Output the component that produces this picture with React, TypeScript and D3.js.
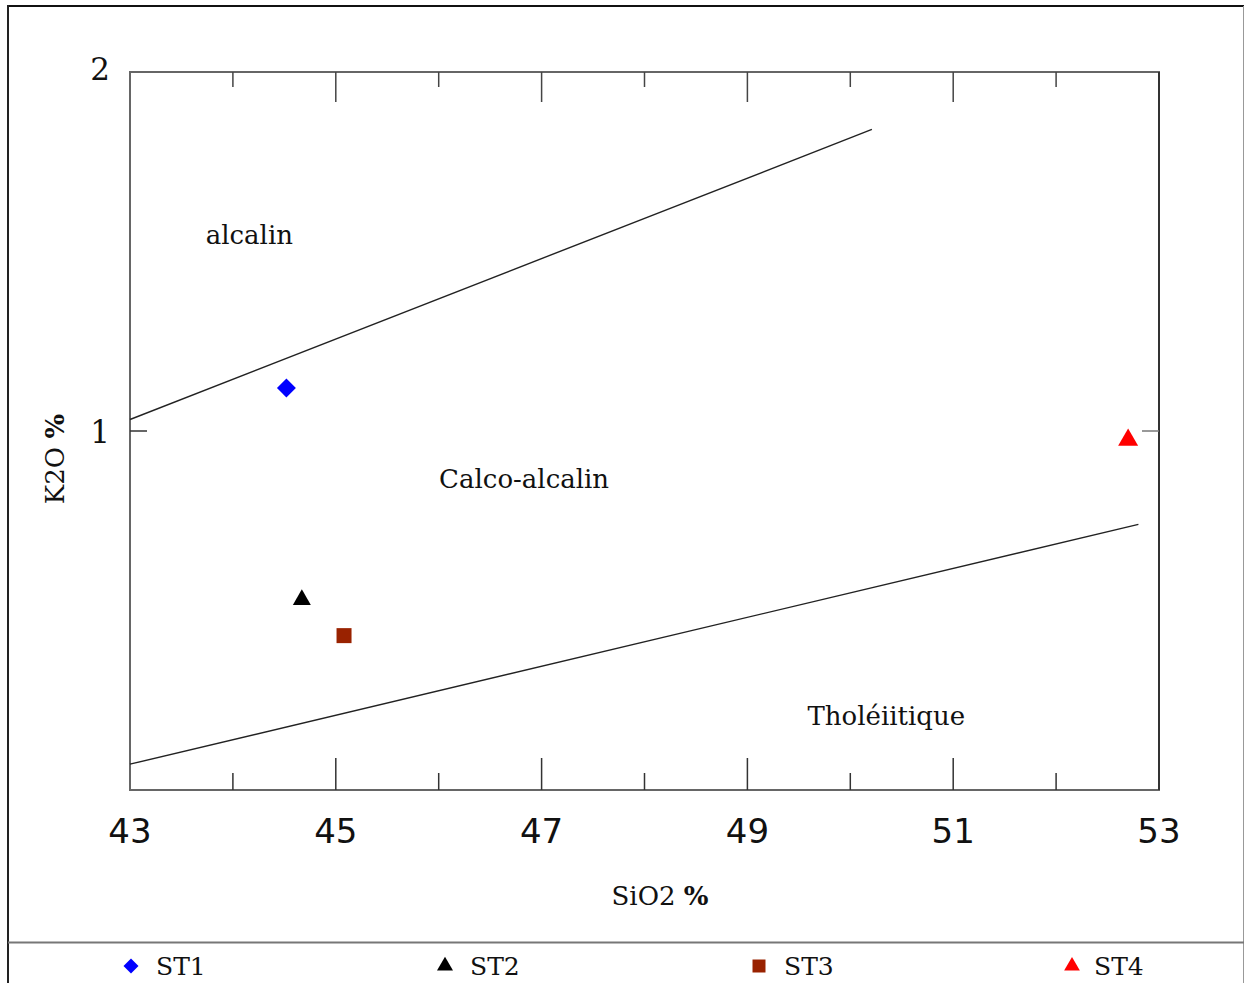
import React, { useEffect, useRef } from "react";
import * as d3 from "d3";

// sample points (SiO2 %, K2O %)
const samples = ["ST1", "ST2", "ST3", "ST4"];
const sio2 = [44.52, 44.67, 45.08, 52.7];
const k2o = [1.12, 0.53, 0.43, 0.975];
const colors = ["#0000ff", "#000000", "#992200", "#ff0000"];
const shapes = ["diamond", "triangle", "square", "triangle"];

// boundary lines between series
const upperLineX = [43, 50.21];
const upperLineY = [1.032, 1.84];
const lowerLineX = [43, 52.8];
const lowerLineY = [0.072, 0.74];

const xTicks = [43, 44, 45, 46, 47, 48, 49, 50, 51, 52, 53];
const xLabels = [43, 45, 47, 49, 51, 53];
const yLabels = [1, 2];

const fields = [
  { name: "alcalin", x: 44.16, y: 1.52 },
  { name: "Calco-alcalin", x: 46.83, y: 0.84 },
  { name: "Tholéiitique", x: 50.35, y: 0.18 },
];

const W = 1244;
const H = 983;

function symbolPath(shape: string, size: number) {
  if (shape === "triangle") return d3.symbol(d3.symbolTriangle, size)();
  return d3.symbol(d3.symbolSquare, size)();
}

function Chart() {
  const ref = useRef<SVGSVGElement>(null);

  useEffect(() => {
    const svg = d3.select(ref.current);
    svg.selectAll("*").remove();

    const x = d3.scaleLinear().domain([43, 53]).range([130, 1159]);
    const y = d3.scaleLinear().domain([0, 2]).range([790, 72]);

    // outer frame
    svg.append("line").attr("x1", 7).attr("x2", 1244).attr("y1", 6).attr("y2", 6)
      .attr("stroke", "#111").attr("stroke-width", 2);
    svg.append("line").attr("x1", 8).attr("x2", 8).attr("y1", 5).attr("y2", H)
      .attr("stroke", "#222").attr("stroke-width", 2);
    svg.append("line").attr("x1", 1243.5).attr("x2", 1243.5).attr("y1", 6).attr("y2", H)
      .attr("stroke", "#999").attr("stroke-width", 1);
    svg.append("line").attr("x1", 8).attr("x2", 1244).attr("y1", 942.5).attr("y2", 942.5)
      .attr("stroke", "#777").attr("stroke-width", 2);

    // plot box
    svg.append("rect")
      .attr("x", x(43)).attr("y", y(2))
      .attr("width", x(53) - x(43)).attr("height", y(0) - y(2))
      .attr("fill", "none").attr("stroke", "#666").attr("stroke-width", 2);
    svg.append("line").attr("x1", x(53)).attr("x2", x(53)).attr("y1", y(2)).attr("y2", y(0))
      .attr("stroke", "#333").attr("stroke-width", 2);

    // ticks, pointing inward
    const inner = xTicks.slice(1, -1);
    svg.append("g").selectAll("line").data(inner).enter().append("line")
      .attr("x1", d => x(d)).attr("x2", d => x(d))
      .attr("y1", y(0)).attr("y2", d => y(0) - (d % 2 === 1 ? 32 : 17))
      .attr("stroke", "#333").attr("stroke-width", 1.5);
    svg.append("g").selectAll("line").data(inner).enter().append("line")
      .attr("x1", d => x(d)).attr("x2", d => x(d))
      .attr("y1", y(2)).attr("y2", d => y(2) + (d % 2 === 1 ? 30 : 15))
      .attr("stroke", "#444").attr("stroke-width", 1.5);
    svg.append("line").attr("x1", x(43)).attr("x2", x(43) + 17).attr("y1", y(1)).attr("y2", y(1))
      .attr("stroke", "#333").attr("stroke-width", 1.5);
    svg.append("line").attr("x1", x(53)).attr("x2", x(53) - 17).attr("y1", y(1)).attr("y2", y(1))
      .attr("stroke", "#777").attr("stroke-width", 1.5);

    // tick labels
    svg.append("g").selectAll("text").data(xLabels).enter().append("text")
      .attr("x", d => x(d)).attr("y", 843)
      .attr("text-anchor", "middle")
      .attr("font-family", "DejaVu Sans")
      .attr("font-size", 34)
      .attr("fill", "#111")
      .text(d => d);
    svg.append("g").selectAll("text").data(yLabels).enter().append("text")
      .attr("x", 110).attr("y", d => y(d) + (d === 2 ? 8 : 12))
      .attr("text-anchor", "end")
      .attr("font-family", "DejaVu Serif")
      .attr("font-size", 31)
      .attr("fill", "#111")
      .text(d => d);

    // axis titles
    const xt = svg.append("text").attr("x", 660).attr("y", 905)
      .attr("text-anchor", "middle").attr("font-family", "DejaVu Serif")
      .attr("font-size", 26).attr("fill", "#111");
    xt.append("tspan").text("SiO2 ");
    xt.append("tspan").attr("font-weight", "bold").text("%");

    const yt = svg.append("text")
      .attr("transform", "translate(64,459) rotate(-90)")
      .attr("text-anchor", "middle").attr("font-family", "DejaVu Serif")
      .attr("font-size", 26).attr("fill", "#111");
    yt.append("tspan").text("K2O ");
    yt.append("tspan").attr("font-weight", "bold").text("%");

    // boundary lines
    const line = d3.line<[number, number]>().x(d => x(d[0])).y(d => y(d[1]));
    svg.append("path")
      .attr("d", line(d3.zip(upperLineX, upperLineY) as [number, number][]))
      .attr("fill", "none").attr("stroke", "#222").attr("stroke-width", 1.4);
    svg.append("path")
      .attr("d", line(d3.zip(lowerLineX, lowerLineY) as [number, number][]))
      .attr("fill", "none").attr("stroke", "#222").attr("stroke-width", 1.4);

    // field names
    svg.append("g").selectAll("text").data(fields).enter().append("text")
      .attr("x", d => x(d.x)).attr("y", d => y(d.y))
      .attr("text-anchor", "middle")
      .attr("font-family", "DejaVu Serif")
      .attr("font-size", 26)
      .attr("fill", "#111")
      .text(d => d.name);

    // points
    const pointSize = [180, 140, 225, 173];
    svg.append("g").selectAll("path").data(samples).enter().append("path")
      .attr("d", (d, i) => symbolPath(shapes[i], pointSize[i]))
      .attr("transform", (d, i) =>
        `translate(${x(sio2[i])},${y(k2o[i])})` + (shapes[i] === "diamond" ? " rotate(45)" : ""))
      .attr("fill", (d, i) => colors[i]);

    // legend
    const legendX = [131, 445, 759, 1072];
    const legendSize = [113, 111, 169, 107];
    const lg = svg.append("g").selectAll("g").data(samples).enter().append("g")
      .attr("transform", (d, i) => `translate(${legendX[i]},966)`);
    lg.append("path")
      .attr("d", (d, i) => symbolPath(shapes[i], legendSize[i]))
      .attr("transform", (d, i) => (shapes[i] === "diamond" ? "rotate(45)" : ""))
      .attr("fill", (d, i) => colors[i]);
    lg.append("text")
      .attr("x", (d, i) => (i === 3 ? 22 : 25)).attr("y", 9)
      .attr("font-family", "DejaVu Serif")
      .attr("font-size", 25)
      .attr("fill", "#111")
      .text(d => d);
  }, []);

  return (
    <svg ref={ref} width={W} height={H}
      style={{ position: "absolute", left: 0, top: 0, background: "#fff" }} />
  );
}

export default function App() {
  return <Chart />;
}
